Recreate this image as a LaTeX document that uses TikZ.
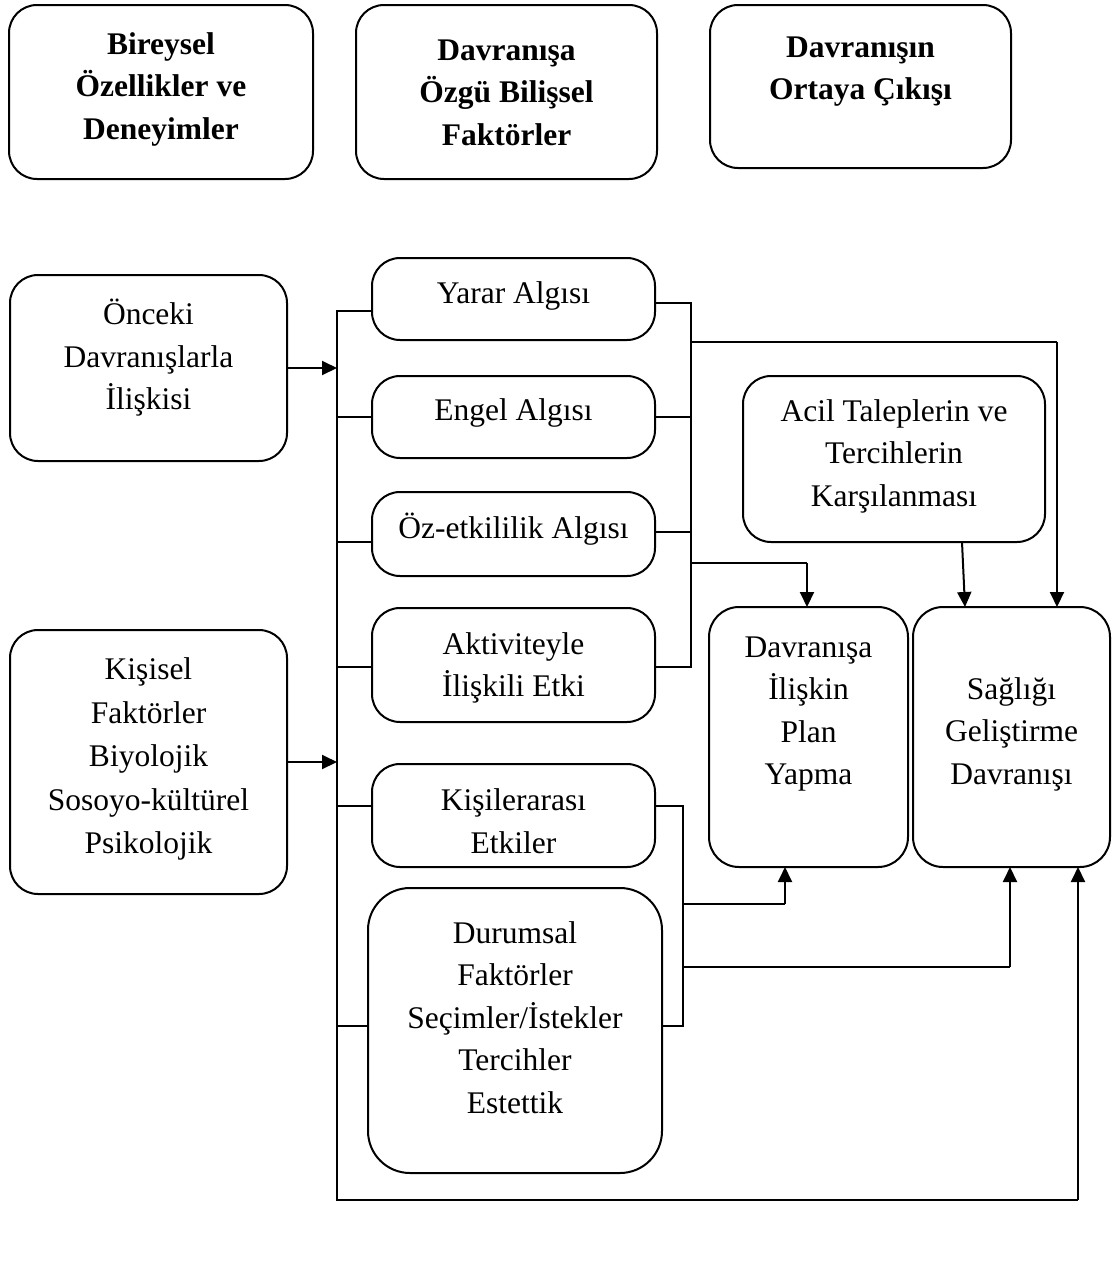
\documentclass[tikz,border=0pt]{standalone}
\usepackage{fontspec}
\setmainfont{Liberation Serif}
\usetikzlibrary{arrows.meta}
\def\bxH{29.75pt}
\def\bxD{12.75pt}
\newcommand\lift[1]{\rule{0pt}{#1}}
\tikzset{
  ln/.style={line width=2pt, line join=miter},
  arr/.style={ln, -{Triangle[length=15pt,width=14pt]}},
  td/.code={\def\bxD{#1}},
  box/.style={draw, line width=2pt, rounded corners=28pt, align=center,
    inner sep=0pt, outer sep=0pt, anchor=north west,
    font=\fontsize{31.5}{42.5}\selectfont,
    execute at begin node={\rule{0pt}{\bxH}},
    execute at end node={\rule[-\bxD]{0pt}{\bxD}}},
  hbox/.style={box, font=\fontsize{31.5}{42.5}\selectfont\bfseries},
}
\begin{document}
\begin{tikzpicture}[x=1pt,y=-1pt]
\useasboundingbox (0,0) rectangle (1116,1264);
% header boxes
\node[hbox, minimum width=304, minimum height=174] (h1) at (9,5) {Bireysel\\Özellikler ve\\Deneyimler};
\node[hbox, minimum width=301, minimum height=174] (h2) at (356,5) {\lift{34pt}Davranışa\\Özgü Bilişsel\\Faktörler};
\node[hbox, minimum width=301, minimum height=163, td=36.75pt] (h3) at (710,5) {Davranışın\\Ortaya Çıkışı};
% left boxes
\node[box, minimum width=277, minimum height=186, td=26.75pt] (onceki) at (10,275) {Önceki\\Davranışlarla\\İlişkisi};
\node[box, minimum width=277, minimum height=264, font=\fontsize{31.5}{43.5}\selectfont] (kisisel) at (10,630) {Kişisel\\Faktörler\\Biyolojik\\Sosoyo-kültürel\\Psikolojik};
% middle boxes
\node[box, minimum width=283, minimum height=82, td=20.75pt] (yarar) at (372,258) {Yarar Algısı};
\node[box, minimum width=283, minimum height=82, td=22.75pt] (engel) at (372,376) {Engel Algısı};
\node[box, minimum width=283, minimum height=84, td=20.75pt] (oz) at (372,492) {Öz-etkililik Algısı};
\node[box, minimum width=283, minimum height=114] (akt) at (372,608) {\lift{34pt}Aktiviteyle\\İlişkili Etki};
\node[box, minimum width=283, minimum height=103, td=0pt] (kisi) at (372,764) {\lift{33pt}Kişilerarası\\Etkiler};
\node[box, minimum width=294, minimum height=285, rounded corners=42pt, td=26.75pt] (durum) at (368,888) {Durumsal\\Faktörler\\Seçimler/İstekler\\Tercihler\\Estettik};
% right boxes
\node[box, minimum width=302, minimum height=166] (acil) at (743,376) {Acil Taleplerin ve\\Tercihlerin\\Karşılanması};
\node[box, minimum width=199, minimum height=260, rounded corners=30pt, td=52.75pt] (plan) at (709,607) {Davranışa\\İlişkin\\Plan\\Yapma};
\node[box, minimum width=197, minimum height=260, rounded corners=30pt] (saglik) at (913,607) {Sağlığı\\Geliştirme\\Davranışı};
% bus coordinates
\coordinate (LT) at (337,311);
\coordinate (LB) at (337,1200);
\coordinate (RB) at (1078,1200);
\coordinate (RT) at (691,303);
\coordinate (RBot) at (691,667);
\coordinate (QT) at (683,806);
\coordinate (QB) at (683,1026);
\coordinate (Y1) at (1057,342);
\coordinate (P1) at (807,563);
\coordinate (P2) at (785,904);
\coordinate (S2) at (1010,967);
\coordinate (AC) at (962,542);
\coordinate (AS) at (965,607);
% left bus
\draw[ln] (LT -| yarar.west) -- (LT) -- (LB) -- (RB);
\draw[arr] (RB) -- (saglik.south -| RB);
\draw[arr] (onceki.east) -- (onceki.east -| LT);
\draw[arr] (kisisel.east) -- (kisisel.east -| LT);
\draw[ln] (engel.west) -- (engel.west -| LT);
\draw[ln] ([yshift=-8pt]oz.west) -- ([yshift=-8pt]oz.west -| LT);
\draw[ln] (akt.west |- RBot) -- (RBot -| LT);
\draw[ln] (kisi.west |- QT) -- (QT -| LT);
\draw[ln] (durum.west |- QB) -- (QB -| LT);
% upper right bus
\draw[ln] (RT -| yarar.east) -- (RT) -- (RBot) -- (akt.east |- RBot);
\draw[ln] (engel.east) -- (engel.east -| RT);
\draw[ln] ([yshift=2pt]oz.east) -- ([yshift=2pt]oz.east -| RT);
\draw[ln] (Y1 -| RT) -- (Y1);
\draw[arr] (Y1) -- (saglik.north -| Y1);
\draw[ln] (P1 -| RT) -- (P1);
\draw[arr] (P1) -- (plan.north -| P1);
% lower right bus
\draw[ln] (kisi.east |- QT) -- (QT) -- (QB) -- (durum.east |- QB);
\draw[ln] (P2 -| QT) -- (P2);
\draw[arr] (P2) -- (plan.south -| P2);
\draw[ln] (S2 -| QT) -- (S2);
\draw[arr] (S2) -- (saglik.south -| S2);
% acil to saglik
\draw[arr] (AC) -- (AS);
\end{tikzpicture}
\end{document}
